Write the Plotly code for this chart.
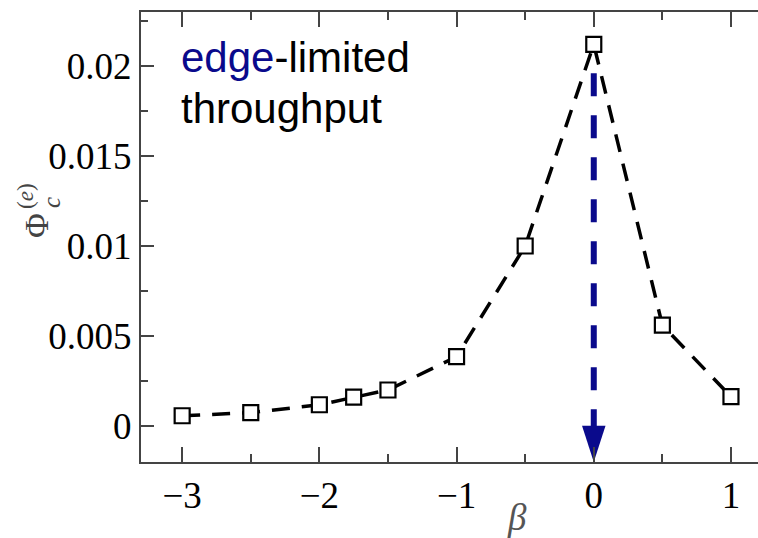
import plotly.graph_objects as go

# Critical edge-limited throughput versus the exponent beta
beta = [-3, -2.5, -2, -1.75, -1.5, -1, -0.5, 0, 0.5, 1]
phi_c = [0.00057, 0.00074, 0.00118, 0.0016, 0.0020, 0.00385, 0.0100, 0.0212, 0.0056, 0.00163]

# Dashed arrow marking the position of the peak
arrow_beta = [0, 0]
arrow_span = [0.0196, -0.0008]
arrow_tip = [-0.002]

x_tick_vals = [-3, -2, -1, 0, 1]
x_tick_text = ["\u22123", "\u22122", "\u22121", "0", "1"]
y_tick_vals = [0, 0.005, 0.01, 0.015, 0.02]
y_tick_text = ["0", "0.005", "0.01", "0.015", "0.02"]

NAVY = "#0a0a8c"
AXIS = "#444444"
SERIF = "Liberation Serif, Times New Roman, serif"
SANS = "Liberation Sans, Arial, sans-serif"

fig = go.Figure()

fig.add_trace(go.Scatter(
    x=beta, y=phi_c, mode="lines+markers",
    line=dict(color="black", width=3.5, dash="18px,12px"),
    marker=dict(symbol="square", size=15, color="white",
                line=dict(color="black", width=2.2)),
    showlegend=False, hoverinfo="skip",
))

fig.add_trace(go.Scatter(
    x=arrow_beta, y=arrow_span, mode="lines",
    line=dict(color=NAVY, width=6, dash="23px,19px"),
    showlegend=False, hoverinfo="skip",
))

fig.add_trace(go.Scatter(
    x=arrow_beta[:1], y=arrow_tip, mode="markers",
    marker=dict(symbol="arrow", angle=180, size=38, color=NAVY,
                line=dict(width=0)),
    cliponaxis=False, showlegend=False, hoverinfo="skip",
))

tick_font = dict(family=SERIF, size=37, color="black")

fig.update_xaxes(
    range=[-3.30, 1.197], showgrid=False, zeroline=False,
    showline=True, linecolor=AXIS, linewidth=2, mirror="ticks",
    ticks="inside", ticklen=15, tickwidth=2, tickcolor=AXIS,
    tickvals=x_tick_vals, ticktext=x_tick_text, tickfont=tick_font,
    minor=dict(ticks="inside", dtick=0.5, ticklen=8, tickwidth=2, tickcolor=AXIS),
)
fig.update_yaxes(
    range=[-0.002, 0.023], showgrid=False, zeroline=False,
    showline=True, linecolor=AXIS, linewidth=2,
    ticks="inside", ticklen=13, tickwidth=2, tickcolor=AXIS,
    tickvals=y_tick_vals, ticktext=y_tick_text, tickfont=tick_font,
    minor=dict(ticks="inside", dtick=0.0025, ticklen=7, tickwidth=2, tickcolor=AXIS),
)

annotations = [
    dict(text=f"<span style='color:{NAVY}'>edge</span>-limited",
         xref="x", yref="paper", x=-3.02, y=(462 - 32) / 450,
         xanchor="left", yanchor="top", showarrow=False,
         font=dict(family=SANS, size=42, color="black")),
    dict(text="throughput",
         xref="x", yref="paper", x=-3.02, y=(462 - 83) / 450,
         xanchor="left", yanchor="top", showarrow=False,
         font=dict(family=SANS, size=42, color="black")),
    dict(text="<i>\u03b2</i>", xref="x", yref="paper", x=-0.56, y=(462 - 517) / 450,
         xanchor="center", yanchor="middle", showarrow=False,
         font=dict(family=SERIF, size=37, color="#555555")),
    dict(text="\u03a6", xref="paper", yref="paper", x=0, xshift=37 - 141,
         y=(462 - 226) / 450, xanchor="center", yanchor="middle",
         textangle=-90, showarrow=False,
         font=dict(family=SERIF, size=34, color="#444444")),
    dict(text="<i>c</i>", xref="paper", yref="paper", x=0, xshift=52 - 141,
         y=(462 - 203) / 450, xanchor="center", yanchor="middle",
         textangle=-90, showarrow=False,
         font=dict(family=SERIF, size=25, color="#444444")),
    dict(text="(<i>e</i>)", xref="paper", yref="paper", x=0, xshift=25 - 141,
         y=(462 - 196) / 450, xanchor="center", yanchor="middle",
         textangle=-90, showarrow=False,
         font=dict(family=SERIF, size=23, color="#444444")),
]

fig.update_layout(
    width=758, height=538,
    margin=dict(l=141, r=0, t=12, b=76),
    plot_bgcolor="white", paper_bgcolor="white",
    annotations=annotations,
)

fig.write_html("out.html")
